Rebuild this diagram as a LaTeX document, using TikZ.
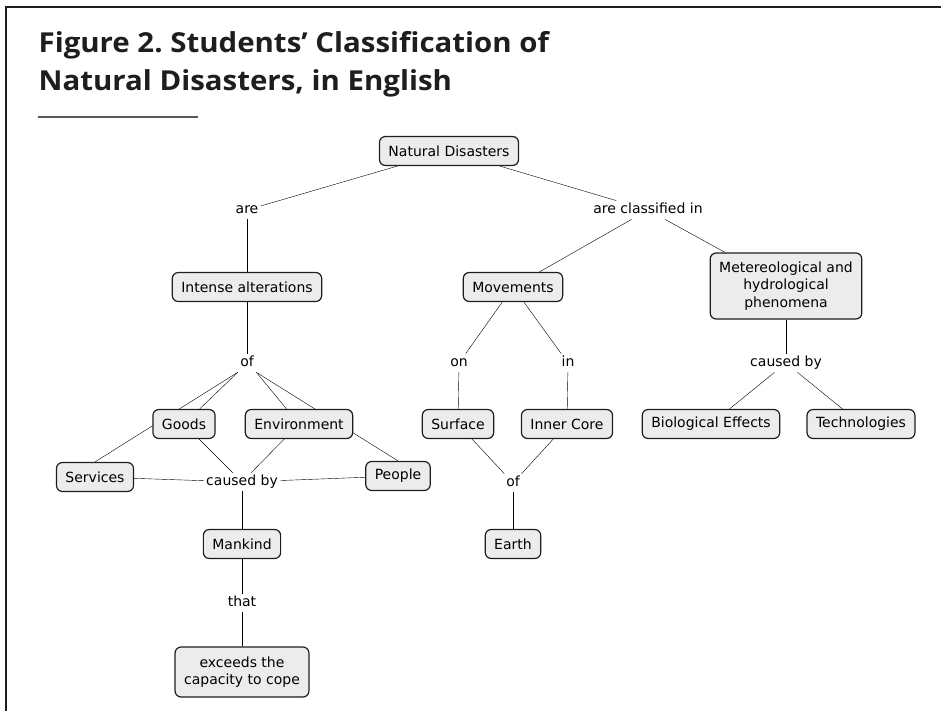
\documentclass[tikz,border=0pt]{standalone}
\usepackage{xcolor}
\usepackage{fontspec}
\setmainfont{DejaVu Sans}
\newfontfamily\titlefont{Open Sans}[FakeStretch=1.07]
\usepackage{tikz}
\usetikzlibrary{positioning, backgrounds}
\definecolor{boxfill}{HTML}{ECECEC}
\definecolor{ink}{HTML}{1E1E1E}
\tikzstyle{concept} = [rectangle, rounded corners=6pt, minimum height=29pt, inner xsep=9pt, text centered, draw=ink, fill=boxfill, line width=1.2pt]
\tikzstyle{link} = [inner xsep=2pt, inner ysep=2pt, text height=10.5pt, text depth=3pt, text centered]
\tikzstyle{heading} = [anchor=base west, inner sep=0pt, font=\titlefont\bfseries\fontsize{27.5pt}{33pt}\selectfont, text=ink]

\begin{document}
\begin{tikzpicture}[x=1pt, y=-1pt, font=\fontsize{14pt}{17.5pt}\selectfont, line width=1.25pt, draw=ink]
		\useasboundingbox (0,0) rectangle (941,711);
		% frame and title
		\draw[ink, line width=1.6pt] (6,711) -- (6,7) -- (941,7);
		\node (Title1)[heading] at (38,53) {Figure 2.\ Students’ Classification of};
		\node (Title2)[heading] at (38,91) {Natural Disasters, in English};
		\draw[black!65, line width=1.8pt] (38,117) -- (198,117);

		% concepts
		\node (Natural Disasters)[concept] at (449,151) {Natural Disasters};
		\node (Intense alterations)[concept] at (247,287) {Intense alterations};
		\node (Movements)[concept] at (513,287) {Movements};
		\node (Phenomena)[concept, align=center, minimum height=66pt] at (786,286) {Metereological and\\hydrological\\phenomena};
		\node (Goods)[concept] at (184,424) {Goods};
		\node (Environment)[concept] at (299,424) {Environment};
		\node (Services)[concept] at (95,477) {Services};
		\node (People)[concept] at (398,476) {People};
		\node (Mankind)[concept] at (242,544) {Mankind};
		\node (Capacity)[concept, align=center, minimum height=50pt] at (242,672) {exceeds the\\capacity to cope};
		\node (Surface)[concept] at (458,424) {Surface};
		\node (Inner Core)[concept] at (567,424) {Inner Core};
		\node (Earth)[concept] at (513,544) {Earth};
		\node (Biological Effects)[concept] at (711,424) {Biological Effects};
		\node (Technologies)[concept] at (861,424) {Technologies};

		% linking phrases
		\node (are)[link] at (247,210) {are};
		\node (are classified in)[link] at (648,210) {are classified in};
		\node (of Alterations)[link] at (247,363) {of};
		\node (caused by Mankind)[link] at (242,482) {caused by};
		\node (that)[link] at (242,603) {that};
		\node (on)[link] at (459,363) {on};
		\node (in)[link] at (568,363) {in};
		\node (of Earth)[link] at (513,483) {of};
		\node (caused by Phenomena)[link] at (786,363) {caused by};

		\begin{pgfonlayer}{background}
		\draw (Natural Disasters) -- (are);
		\draw (are) -- (Intense alterations);
		\draw (Natural Disasters) -- (are classified in);
		\draw (are classified in) -- (Movements);
		\draw (are classified in) -- (Phenomena);
		\draw (Intense alterations) -- (of Alterations);
		\draw (of Alterations.south west) -- (Goods);
		\draw (of Alterations.south west) -- (Services.north);
		\draw (of Alterations.south east) -- (Environment);
		\draw (of Alterations.south east) -- (People.north);
		\draw (Goods) -- (caused by Mankind);
		\draw (Environment) -- (caused by Mankind);
		\draw (Services) -- (caused by Mankind);
		\draw (People) -- (caused by Mankind);
		\draw (caused by Mankind) -- (Mankind);
		\draw (Mankind) -- (that);
		\draw (that) -- (Capacity);
		\draw (Movements) -- (on);
		\draw (Movements) -- (in);
		\draw (on) -- (Surface);
		\draw (in) -- (Inner Core);
		\draw (Surface) -- (of Earth);
		\draw (Inner Core) -- (of Earth);
		\draw (of Earth) -- (Earth);
		\draw (Phenomena) -- (caused by Phenomena);
		\draw (caused by Phenomena) -- (Biological Effects);
		\draw (caused by Phenomena) -- (Technologies);
		\end{pgfonlayer}
	\end{tikzpicture}
\end{document}
